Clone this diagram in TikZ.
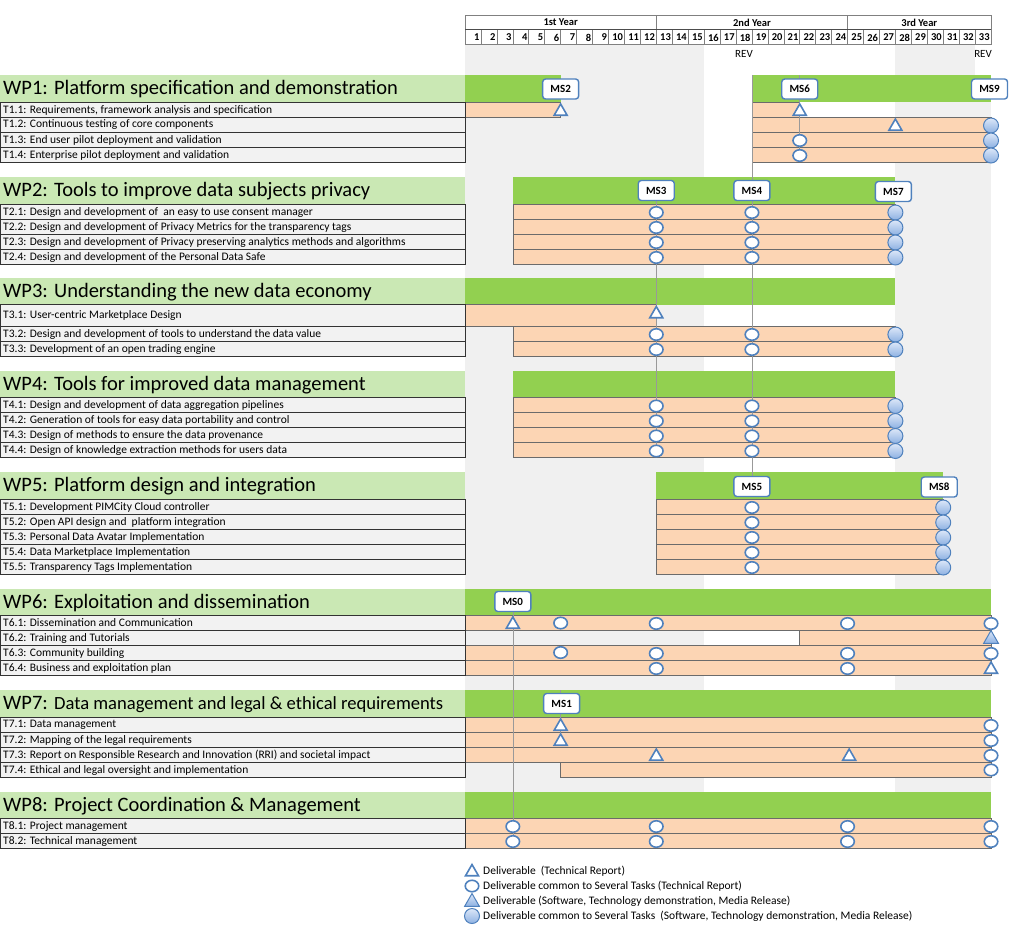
\documentclass[tikz,border=0pt]{standalone}
\usepackage{fontspec}
\setmainfont{Carlito}
\usetikzlibrary{shapes.geometric}
\definecolor{gband}{HTML}{F0F0F0}
\definecolor{lblfill}{HTML}{F2F2F2}
\definecolor{wpgreen}{HTML}{92D050}
\definecolor{wplight}{HTML}{CAE8B4}
\definecolor{taskor}{HTML}{FCD5B4}
\definecolor{msblue}{HTML}{4F81BD}
\definecolor{mstop}{HTML}{DCE7F8}
\definecolor{msbot}{HTML}{8DB1E2}
\definecolor{rowline}{HTML}{6B6B6B}
\definecolor{hdrline}{HTML}{808080}
\pgfdeclarelayer{bg}
\pgfdeclarelayer{lines}
\pgfsetlayers{bg,lines,main}
\newcommand\mend[1]{(465+(#1)*15.94)}
\newcommand\mktask[4]{%
  \path[lbl] (0.5,#2) rectangle (465,#3);
  \node[lbltext] (#1) at (3,{(#2+#3)/2+0.5}) {#4};}
\newcommand\mkwp[4]{%
  \fill[wplight] (0,#2) rectangle (465,#3);
  \node[wplbl] (#1) at (3,{(#2+#3)/2+1}) {#4};}
\newcommand\mkbar[4]{\begin{pgfonlayer}{bg}\path[orbar] ({\mend{#1}},#3) rectangle ({\mend{#2}},#4);\end{pgfonlayer}}
\newcommand\mkgreen[4]{\begin{pgfonlayer}{bg}\fill[wpgreen] ({\mend{#1}},#3) rectangle ({\mend{#2}},#4);\end{pgfonlayer}}
\newcommand\mkm[4]{\node[#1] (#2) at ({\mend{#3}},#4) {};}
\tikzset{
  lbl/.style={draw=black!80, line width=0.6pt, fill=lblfill},
  lbltext/.style={anchor=west, inner sep=0pt, font=\fontsize{11.5}{11.5}\selectfont},
  wplbl/.style={anchor=west, inner sep=0pt, font=\fontsize{20.5}{20.5}\selectfont},
  orbar/.style={fill=taskor, draw=rowline, line width=0.6pt},
  hollowc/.style={ellipse, draw=msblue, line width=1.6pt, fill=white, minimum width=13.5pt, minimum height=11.5pt, inner sep=0pt},
  filledc/.style={circle, draw=msblue, line width=1pt, top color=mstop, bottom color=msbot, minimum size=15pt, inner sep=0pt},
  hollowt/.style={regular polygon, regular polygon sides=3, draw=msblue, line width=1.6pt, fill=white, minimum size=15pt, inner sep=0pt},
  filledt/.style={regular polygon, regular polygon sides=3, draw=msblue, line width=1pt, top color=mstop, bottom color=msbot, minimum size=17pt, inner sep=0pt},
  msbox/.style={rounded corners=3pt, draw=msblue, line width=1.4pt, fill=white, minimum width=36pt, minimum height=20pt, inner sep=0pt, font=\fontsize{11}{11}\selectfont\bfseries},
  msline/.style={draw=black!40, line width=0.6pt},
  hdr/.style={draw=hdrline, line width=0.6pt},
  hdrtext/.style={inner sep=0pt, font=\fontsize{10.5}{10.5}\selectfont\bfseries},
  revtext/.style={inner sep=0pt, font=\fontsize{11}{11}\selectfont},
  legtext/.style={anchor=west, inner sep=0pt, font=\fontsize{11.5}{11.5}\selectfont},
}
\begin{document}
\begin{tikzpicture}[x=1pt,y=-1pt]
\useasboundingbox (0,0) rectangle (1024,938);
% background bands
\begin{pgfonlayer}{bg}
\fill[gband] ({\mend{0}},44.5) rectangle ({\mend{15}},848.5);
\fill[gband] ({\mend{27}},44.5) rectangle ({\mend{33}},848.5);
\fill[white] ({\mend{32}},44.5) rectangle ({\mend{33}},75);
\end{pgfonlayer}
% header
\draw[hdr] ({\mend{0}},15) rectangle ({\mend{12}},29.5);
\draw[hdr] ({\mend{12}},15) rectangle ({\mend{24}},29.5);
\draw[hdr] ({\mend{24}},15) rectangle ({\mend{33}},29.5);
\node[hdrtext] (y1) at ({\mend{6}},22.5) {1st Year};
\node[hdrtext] (y2) at ({\mend{18}},22.5) {2nd Year};
\node[hdrtext] (y3) at ({\mend{28.5}},22.5) {3rd Year};
\foreach \m in {1,...,33}{
  \draw[hdr] ({\mend{\m-1}},29.5) rectangle ({\mend{\m}},44.5);
  \node[hdrtext, anchor=east] (mo\m) at ({\mend{\m}-1.2},37.5) {\m};
}
\draw[hdr, draw=black!70] ({\mend{0}},29.5) -- ({\mend{33}},29.5);
\node[revtext] (rev1) at ({\mend{17.5}},53.5) {REV};
\node[revtext] (rev2) at ({\mend{32.5}},53.5) {REV};

% ---------------- WP1
\mkwp{wp1}{75}{102}{WP1: Platform specification and demonstration}
\mkgreen{0}{6}{75}{102}\mkgreen{18}{33}{75}{102}
\mktask{t11}{102}{117}{T1.1: Requirements, framework analysis and specification}
\mktask{t12}{117}{132}{T1.2: Continuous testing of core components}
\mktask{t13}{132}{147}{T1.3: End user pilot deployment and validation}
\mktask{t14}{147}{162}{T1.4: Enterprise pilot deployment and validation}
\mkbar{0}{6}{102}{117}\mkbar{18}{21}{102}{117}
\mkbar{18}{33}{117}{132}\mkbar{18}{33}{132}{147}\mkbar{18}{33}{147}{162}
\mkm{hollowt}{d11a}{6}{111.5}\mkm{hollowt}{d11b}{21}{111.5}
\mkm{hollowt}{d12a}{27}{126.5}\mkm{filledc}{d12b}{33}{125.5}
\mkm{hollowc}{d13a}{21}{140.5}\mkm{filledc}{d13b}{33}{140.5}
\mkm{hollowc}{d14a}{21}{155.5}\mkm{filledc}{d14b}{33}{155.5}
\node[msbox] (ms2) at ({\mend{6}},89) {MS2};
\node[msbox] (ms6) at ({\mend{21}},89) {MS6};
\node[msbox] (ms9) at ({\mend{33}-1.5},89) {MS9};
\coordinate (top21) at ({\mend{21}},75);
\coordinate (top18) at ({\mend{18}},75);

% ---------------- WP2
\mkwp{wp2}{177}{204}{WP2: Tools to improve data subjects privacy}
\mkgreen{3}{27}{177}{204}
\mktask{t21}{204}{219}{T2.1: Design and development of\ \ an easy to use consent manager}
\mktask{t22}{219}{234}{T2.2: Design and development of Privacy Metrics for the transparency tags}
\mktask{t23}{234}{249}{T2.3: Design and development of Privacy preserving analytics methods and algorithms}
\mktask{t24}{249}{264}{T2.4: Design and development of the Personal Data Safe}
\foreach \r/\yt in {1/204,2/219,3/234,4/249}{
  \mkbar{3}{27}{\yt}{\yt+15}
  \mkm{hollowc}{d2\r a}{12}{\yt+8.5}
  \mkm{hollowc}{d2\r b}{18}{\yt+8.5}
  \mkm{filledc}{d2\r c}{27}{\yt+8.5}
}
\node[msbox] (ms3) at ({\mend{12}},190.5) {MS3};
\node[msbox] (ms4) at ({\mend{18}},190.5) {MS4};
\node[msbox] (ms7) at ({\mend{27}-2},191.5) {MS7};

% ---------------- WP3
\mkwp{wp3}{277.5}{304.5}{WP3: Understanding the new data economy}
\mkgreen{0}{27}{277.5}{304.5}
\mktask{t31}{304.5}{326}{T3.1: User-centric Marketplace Design}
\mktask{t32}{326}{341}{T3.2: Design and development of tools to understand the data value}
\mktask{t33}{341}{356}{T3.3: Development of an open trading engine}
\mkbar{0}{12}{304.5}{326}
\mkm{hollowt}{d31a}{12}{314}
\foreach \r/\yt in {2/326,3/341}{
  \mkbar{3}{27}{\yt}{\yt+15}
  \mkm{hollowc}{d3\r a}{12}{\yt+8.5}
  \mkm{hollowc}{d3\r b}{18}{\yt+8.5}
  \mkm{filledc}{d3\r c}{27}{\yt+8.5}
}

% ---------------- WP4
\mkwp{wp4}{371}{397.5}{WP4: Tools for improved data management}
\mkgreen{3}{27}{371}{397.5}
\mktask{t41}{397.5}{412.5}{T4.1: Design and development of data aggregation pipelines}
\mktask{t42}{412.5}{427.5}{T4.2: Generation of tools for easy data portability and control}
\mktask{t43}{427.5}{442.5}{T4.3: Design of methods to ensure the data provenance}
\mktask{t44}{442.5}{457.5}{T4.4: Design of knowledge extraction methods for users data}
\foreach \r/\yt in {1/397.5,2/412.5,3/427.5,4/442.5}{
  \mkbar{3}{27}{\yt}{\yt+15}
  \mkm{hollowc}{d4\r a}{12}{\yt+8.5}
  \mkm{hollowc}{d4\r b}{18}{\yt+8.5}
  \mkm{filledc}{d4\r c}{27}{\yt+8.5}
}

% ---------------- WP5
\mkwp{wp5}{472}{499}{WP5: Platform design and integration}
\mkgreen{12}{30}{472}{499}
\mktask{t51}{499}{514}{T5.1: Development PIMCity Cloud controller}
\mktask{t52}{514}{529}{T5.2: Open API design and\ \ platform integration}
\mktask{t53}{529}{544}{T5.3: Personal Data Avatar Implementation}
\mktask{t54}{544}{559}{T5.4: Data Marketplace Implementation}
\mktask{t55}{559}{574}{T5.5: Transparency Tags Implementation}
\foreach \r/\yt in {1/499,2/514,3/529,4/544,5/559}{
  \mkbar{12}{30}{\yt}{\yt+15}
  \mkm{hollowc}{d5\r a}{18}{\yt+8.5}
  \mkm{filledc}{d5\r b}{30}{\yt+8.5}
}
\node[msbox] (ms5) at ({\mend{18}},486.5) {MS5};
\node[msbox] (ms8) at ({\mend{30}-4},487) {MS8};

% ---------------- WP6
\mkwp{wp6}{588.5}{615}{WP6: Exploitation and dissemination}
\mkgreen{0}{33}{588.5}{615}
\mktask{t61}{615}{630}{T6.1: Dissemination and Communication}
\mktask{t62}{630}{645}{T6.2: Training and Tutorials}
\mktask{t63}{645}{660}{T6.3: Community building}
\mktask{t64}{660}{675}{T6.4: Business and exploitation plan}
\mkbar{0}{33}{615}{630}\mkbar{21}{33}{630}{645}\mkbar{0}{33}{645}{660}\mkbar{0}{33}{660}{675}
\mkm{hollowt}{d61a}{3}{624.5}\mkm{hollowc}{d61b}{6}{623}\mkm{hollowc}{d61c}{12}{623.5}
\mkm{hollowc}{d61d}{24}{623.5}\mkm{hollowc}{d61e}{33}{623.5}
\mkm{filledt}{d62a}{33}{639}
\mkm{hollowc}{d63a}{6}{652.5}\mkm{hollowc}{d63b}{12}{653.5}\mkm{hollowc}{d63c}{24}{653.5}\mkm{hollowc}{d63d}{33}{653.5}
\mkm{hollowc}{d64a}{12}{668.5}\mkm{hollowc}{d64b}{24}{668.5}\mkm{hollowt}{d64c}{33}{669.5}
\node[msbox] (ms0) at ({\mend{3}},601.5) {MS0};

% ---------------- WP7
\mkwp{wp7}{690}{717}{WP7: {\fontsize{18.6}{18.6}\selectfont Data management and legal \& ethical requirements}}
\mkgreen{0}{33}{690}{717}
\mktask{t71}{717}{732}{T7.1: Data management}
\mktask{t72}{732}{747}{T7.2: Mapping of the legal requirements}
\mktask{t73}{747}{762}{T7.3: Report on Responsible Research and Innovation (RRI) and societal impact}
\mktask{t74}{762}{777}{T7.4: Ethical and legal oversight and implementation}
\mkbar{0}{33}{717}{732}\mkbar{0}{33}{732}{747}\mkbar{0}{33}{747}{762}\mkbar{6}{33}{762}{777}
\mkm{hollowt}{d71a}{6}{726.5}\mkm{hollowc}{d71b}{33}{725.5}
\mkm{hollowt}{d72a}{6}{741.5}\mkm{hollowc}{d72b}{33}{740.5}
\mkm{hollowt}{d73a}{12}{756.5}\mkm{hollowt}{d73b}{24.1}{756.5}\mkm{hollowc}{d73c}{33}{755.5}
\mkm{hollowc}{d74a}{33}{770}
\node[msbox] (ms1) at ({\mend{6}+1},703.5) {MS1};
\coordinate (top6) at ({\mend{6}},690);

% ---------------- WP8
\mkwp{wp8}{792}{818.5}{WP8: Project Coordination \& Management}
\mkgreen{0}{33}{792}{818.5}
\mktask{t81}{818.5}{833.5}{T8.1: Project management}
\mktask{t82}{833.5}{848.5}{T8.2: Technical management}
\mkbar{0}{33}{818.5}{833.5}\mkbar{0}{33}{833.5}{848.5}
\foreach \r/\yy in {1/826.5,2/841.5}{
  \mkm{hollowc}{d8\r a}{3}{\yy}
  \mkm{hollowc}{d8\r b}{12}{\yy}
  \mkm{hollowc}{d8\r c}{24}{\yy}
  \mkm{hollowc}{d8\r d}{33}{\yy}
}

% ---------------- milestone lines
\begin{pgfonlayer}{lines}
\draw[msline] (top21) -- (d14a.center);
\draw[msline] (ms3.center) -- (d44a.center);
\draw[msline] (top18) -- (ms5.center);
\draw[msline] (ms0.center) -- (d82a.center);
\draw[msline] (top6) -- (d72a.center);
\end{pgfonlayer}

% ---------------- legend
\node[hollowt] (lg1) at (472,872) {};
\node[legtext] (lt1) at (483,871) {Deliverable\ \ (Technical Report)};
\node[hollowc] (lg2) at (472,886) {};
\node[legtext] (lt2) at (483,886) {Deliverable common to Several Tasks (Technical Report)};
\node[filledt] (lg3) at (472,902) {};
\node[legtext] (lt3) at (483,901) {Deliverable (Software, Technology demonstration, Media Release)};
\node[filledc] (lg4) at (472,916) {};
\node[legtext] (lt4) at (483,916) {Deliverable common to Several Tasks\ \ (Software, Technology demonstration, Media Release)};
\end{tikzpicture}
\end{document}
